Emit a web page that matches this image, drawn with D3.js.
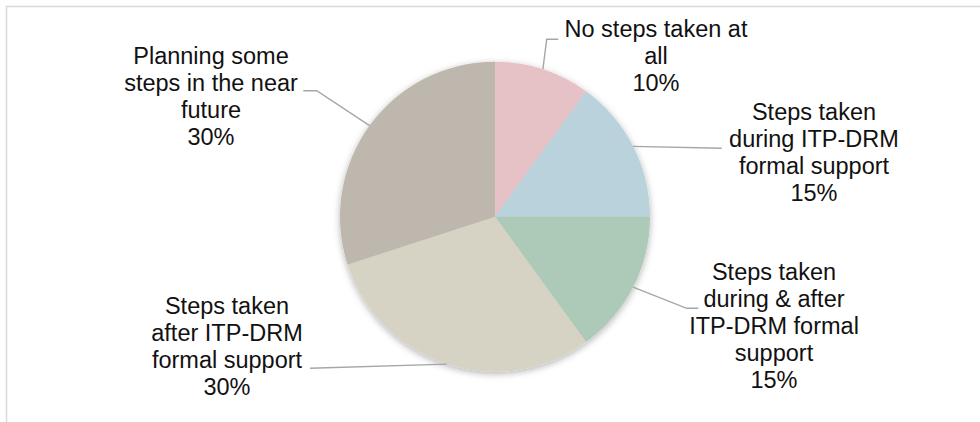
<!DOCTYPE html>
<html>
<head>
<meta charset="utf-8">
<script src="https://cdn.jsdelivr.net/npm/d3@7"></script>
<style>
  html, body { margin: 0; padding: 0; background: #fff; }
  svg { display: block; }
</style>
</head>
<body>
<script>
// Share of respondents by stage of action taken
const categories = [
  "No steps taken at all",
  "Steps taken during ITP-DRM formal support",
  "Steps taken during & after ITP-DRM formal support",
  "Steps taken after ITP-DRM formal support",
  "Planning some steps in the near future"
];
const shares = [10, 15, 15, 30, 30];
const labelLines = [
  ["No steps taken at", "all"],
  ["Steps taken", "during ITP-DRM", "formal support"],
  ["Steps taken", "during & after", "ITP-DRM formal", "support"],
  ["Steps taken", "after ITP-DRM", "formal support"],
  ["Planning some", "steps in the near", "future"]
];
const sliceColors = ["#E6C2C6", "#B9D2DC", "#ADCAB8", "#D6D3C4", "#BEB7AD"];

// Label block placement: centre x, first baseline, leader bend points
const labelLayout = [
  { x: 656, y: 36.5, bends: [[546.7, 39.3], [558.3, 39.3]] },
  { x: 814, y: 119.7, bends: [[721.7, 148.3]] },
  { x: 774, y: 280, bends: [[686.7, 308.3], [698.3, 308.3]] },
  { x: 227, y: 313.5, bends: [[310, 368.3]] },
  { x: 211, y: 63.5, bends: [[316.7, 90.7], [303.3, 90.7]] }
];

const W = 980, H = 422;
const cx = 495, cy = 216.7, R = 155;
const lineH = 27;

const svg = d3.select("body").append("svg")
  .attr("width", W).attr("height", H);

const defs = svg.append("defs");
const shadow = defs.append("filter").attr("id", "pieShadow")
  .attr("x", "-20%").attr("y", "-20%").attr("width", "140%").attr("height", "140%");
shadow.append("feDropShadow")
  .attr("dx", 0).attr("dy", 2).attr("stdDeviation", 3.5)
  .attr("flood-color", "#000").attr("flood-opacity", 0.3);

// chart area frame
svg.append("rect")
  .attr("x", 6.5).attr("y", 6.5)
  .attr("width", W + 20).attr("height", H + 20)
  .attr("fill", "#fff")
  .attr("stroke", "#D9D9D9").attr("stroke-width", 1.5);

const pie = d3.pie().sort(null).value(d => d)(shares);
const arc = d3.arc().innerRadius(0).outerRadius(R);
const rim = d3.arc().innerRadius(R).outerRadius(R);

const g = svg.append("g").attr("transform", `translate(${cx},${cy})`);

g.append("g").attr("filter", "url(#pieShadow)")
  .selectAll("path")
  .data(pie)
  .join("path")
  .attr("d", arc)
  .attr("fill", (d, i) => sliceColors[i]);

// leader lines from slice rim midpoint to the label
const line = d3.line();
svg.append("g")
  .selectAll("path")
  .data(pie)
  .join("path")
  .attr("d", (d, i) => {
    const c = rim.centroid(d);
    const pts = [[cx + c[0], cy + c[1]], ...labelLayout[i].bends];
    return line(pts);
  })
  .attr("fill", "none")
  .attr("stroke", "#A6A6A6")
  .attr("stroke-width", 1.4);

// data labels: category name plus percentage
const labels = svg.append("g")
  .attr("font-family", "'Liberation Sans', Arial, sans-serif")
  .attr("font-size", "23.5px")
  .attr("fill", "#111")
  .attr("text-anchor", "middle");

labels.selectAll("text")
  .data(pie)
  .join("text")
  .each(function (d, i) {
    const t = d3.select(this);
    const lay = labelLayout[i];
    const rows = labelLines[i].concat([d3.format(".0f")(d.data) + "%"]);
    rows.forEach((r, k) => {
      t.append("tspan")
        .attr("x", lay.x)
        .attr("y", lay.y + k * lineH)
        .text(r);
    });
  });
</script>
</body>
</html>
